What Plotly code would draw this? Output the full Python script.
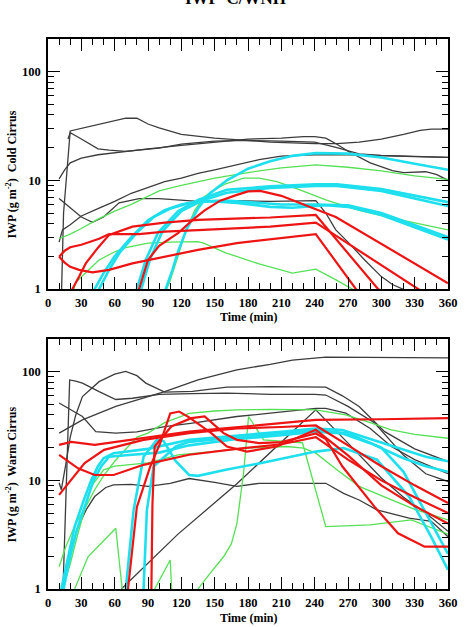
import plotly.graph_objects as go

# ---------------- Cold Cirrus (top panel) ----------------
cold_black_1_t = [12, 14, 20, 30, 45, 60, 70, 80, 90, 100, 120, 150, 170, 200, 240, 260, 280, 300, 320, 335, 345, 360]
cold_black_1_v = [0.8, 5, 28.5, 30, 32.6, 35, 37.3, 37.3, 33, 30.4, 26.5, 24.5, 23.6, 22.5, 21.8, 21.8, 22.5, 24, 26.5, 28.8, 29.6, 29.6]
cold_black_2_t = [10, 15, 20, 30, 45, 60, 90, 120, 150, 180, 210, 230, 240, 250, 260, 270, 290, 310, 320, 330, 340, 350, 360]
cold_black_2_v = [10.3, 12.5, 14.5, 16, 17.2, 18, 19.5, 21, 22.5, 24, 24.5, 25.3, 25.3, 24.5, 21.5, 18.5, 14.5, 12.3, 11.8, 11.9, 12, 11.3, 10]
cold_black_3_t = [18, 20, 30, 45, 55, 70, 100, 120, 150, 180, 210, 240, 260, 280, 300, 330, 360]
cold_black_3_v = [24, 27.5, 24, 19.5, 19, 18.5, 19.8, 21.5, 23, 23.3, 23, 22.5, 20, 17.5, 17, 16.6, 16.3]
cold_black_4_t = [10, 13, 20, 30, 45, 60, 75, 90, 105, 120, 135, 150, 170, 190, 210, 240, 270, 300, 330, 360]
cold_black_4_v = [2.7, 3.5, 3.9, 4.7, 5.5, 6.4, 7.6, 8.6, 9.75, 10.5, 11.6, 12.5, 13.9, 15.5, 16.7, 17.2, 17.2, 16.8, 16.5, 16.3]
cold_black_5_t = [10, 20, 30, 40, 50, 64, 82, 100, 135, 170, 200, 241, 250, 259, 270, 285, 300, 310, 322]
cold_black_5_v = [6.8, 5.6, 4.6, 4.1, 4.6, 6.2, 6.8, 6.8, 6.4, 6.5, 6.4, 6.5, 5, 3.5, 2.7, 1.85, 1.3, 1.1, 0.97]

cold_green_1_t = [10, 20, 30, 45, 60, 75, 100, 120, 150, 180, 210, 241, 270, 300, 330, 360]
cold_green_1_v = [2.9, 3.2, 3.6, 4.4, 5.2, 6, 8, 9, 10.5, 11.8, 13, 13.9, 13.2, 12.2, 11, 10.2]
cold_green_2_t = [22, 25, 35, 46, 60, 70, 90, 110, 135, 140, 160, 190, 220, 241, 260, 276]
cold_green_2_v = [0.9, 1.15, 1.45, 1.85, 2.2, 2.4, 2.64, 2.7, 2.73, 2.64, 2.15, 1.7, 1.4, 1.52, 1.2, 0.97]
cold_green_3_t = [105, 110, 117, 123, 132, 141, 150, 160, 176, 190, 206, 225, 250, 280, 310, 340, 360]
cold_green_3_v = [0.9, 1.2, 2, 3.2, 5.3, 7.1, 8.2, 9.3, 10.5, 10.5, 9.75, 8.3, 6.6, 5.3, 4.5, 3.9, 3.5]

cold_cyan_1_t = [40, 42, 50, 60, 75, 90, 105, 120, 135, 150, 170, 200, 220, 250, 270, 300, 330, 360]
cold_cyan_1_v = [0.85, 1, 1.4, 2, 3, 4.3, 5.3, 6, 6.4, 6.4, 6.2, 5.7, 5.6, 5.9, 5.7, 4.8, 3.7, 2.85]
cold_cyan_2_t = [44, 46, 55, 65, 80, 95, 110, 125, 140, 160, 180, 210, 240, 270, 300, 330, 360]
cold_cyan_2_v = [0.85, 1, 1.5, 2.2, 3.3, 4.6, 5.5, 6.1, 6.4, 6.5, 6.3, 6, 6, 5.9, 5, 3.9, 3.0]
cold_cyan_3_t = [78, 80, 88, 99, 117, 135, 161, 200, 241, 260, 300, 330, 360]
cold_cyan_3_v = [0.9, 1, 1.85, 3.3, 5.2, 6.6, 8.2, 8.8, 9.2, 9.2, 8.3, 7.2, 6.3]
cold_cyan_4_t = [82, 84, 92, 103, 120, 140, 161, 200, 241, 260, 300, 330, 360]
cold_cyan_4_v = [0.9, 1, 1.9, 3.4, 5.2, 6.6, 7.7, 8.5, 8.9, 8.9, 8, 6.8, 5.8]
cold_cyan_5_t = [104, 106, 112, 117, 125, 135, 145, 161, 180, 200, 220, 241, 270, 300, 330, 360]
cold_cyan_5_v = [0.9, 1, 1.5, 2.2, 3.6, 5.5, 7.5, 10, 12.8, 15, 16.8, 17.8, 17.6, 16.2, 14.2, 12.5]

cold_red_1_t = [10, 15, 20, 28, 40, 55, 76, 105, 135, 170, 200, 241, 280]
cold_red_1_v = [1.98, 1.75, 1.6, 1.5, 1.42, 1.5, 1.72, 1.98, 2.29, 2.64, 2.85, 3.2, 0.91]
cold_red_2_t = [10, 15, 20, 30, 46, 55, 82, 105, 135, 170, 200, 241, 333, 340]
cold_red_2_v = [1.98, 2.25, 2.42, 2.55, 2.9, 3.2, 3.2, 3.37, 3.48, 3.6, 3.75, 4.08, 1.0, 0.9]
cold_red_3_t = [20, 22, 28, 34, 45, 55, 76, 105, 135, 170, 200, 241, 297, 305]
cold_red_3_v = [0.85, 1.0, 1.3, 1.72, 2.4, 3.15, 3.75, 4.08, 4.33, 4.47, 4.55, 4.8, 1.0, 0.88]
cold_red_4_t = [80, 82, 90, 100, 117, 130, 141, 155, 170, 180, 191, 210, 230, 259, 360]
cold_red_4_v = [0.9, 1, 1.85, 2.5, 3.26, 4.3, 5.3, 6.5, 7.35, 7.9, 8.0, 7.2, 6.0, 4.6, 1.13]

# ---------------- Warm Cirrus (bottom panel) ----------------
warm_black_1_t = [10, 12, 16, 20, 25, 31, 46, 60, 70, 80, 88, 105, 130, 150, 161, 200, 240, 250, 265, 280, 303, 330, 360]
warm_black_1_v = [9.5, 8.2, 14, 25, 40, 59, 81, 95, 100.6, 92, 78.6, 65, 66, 70, 72, 73, 73, 72, 60, 47.9, 28.1, 19.5, 14.9]
warm_black_2_t = [13.5, 19.5, 25, 31, 46, 61, 76, 100, 130, 161, 200, 240, 250, 270, 294, 320, 340, 360]
warm_black_2_v = [1, 84, 82, 78.6, 65.6, 55.5, 57, 62, 63, 63.6, 62, 62, 61, 48, 33.7, 17, 11.5, 9.75]
warm_black_3_t = [10, 31, 61, 105, 135, 170, 200, 220, 250, 300, 360]
warm_black_3_v = [27.2, 36, 47.9, 65.6, 84, 104, 117, 128, 136, 135, 134]
warm_black_4_t = [10, 20, 31, 43, 61, 80, 105, 130, 170, 200, 241, 250, 268, 290, 309, 330, 360]
warm_black_4_v = [51.5, 45, 38.7, 28.1, 27.2, 28, 31.3, 33.7, 38.7, 41.5, 46, 46, 41.6, 30, 20.5, 15.5, 11.5]
warm_black_5_t = [12, 20, 27, 35, 42, 52, 59, 75, 90, 110, 127, 150, 170, 190, 220, 250, 266, 280, 296, 325, 345, 360]
warm_black_5_v = [0.9, 2.2, 3.75, 5.5, 7.1, 8.6, 9.1, 9.2, 8.8, 9.4, 10.4, 9.6, 8.8, 9.4, 9.4, 9.4, 7.6, 6.6, 5.35, 4.5, 4.2, 3.03]
warm_black_6_t = [66, 117, 170, 241, 270, 300, 320, 340, 360]
warm_black_6_v = [1, 3.2, 9.3, 44.6, 22, 10.5, 7, 5, 3.4]

warm_green_1_t = [10, 16, 25, 34, 42, 50, 60, 80, 90, 105, 127, 150, 170, 200, 241, 268, 290, 309, 330, 360]
warm_green_1_v = [1.6, 2.45, 4, 5.7, 8.2, 11, 15, 25, 27.2, 34, 41.4, 43.5, 44.6, 45, 44.6, 40, 34, 29.2, 26.5, 24.4]
warm_green_2_t = [22, 24, 36, 50.5, 61, 67]
warm_green_2_v = [0.9, 1.0, 1.98, 2.83, 3.62, 0.95]
warm_green_3_t = [94, 96, 110, 111.5]
warm_green_3_v = [0.85, 1, 1.85, 0.9]
warm_green_4_t = [133, 135, 146, 158, 165, 170, 176, 180.5, 194, 210, 229, 250, 290, 327, 345, 360]
warm_green_4_v = [0.9, 1, 1.4, 1.98, 2.6, 4, 11.6, 38.7, 23.6, 23, 22.2, 3.75, 3.9, 4.33, 3.7, 3.2]
warm_green_5_t = [13, 20, 27, 39, 50, 60, 90, 117, 150, 176, 215, 230, 241, 260, 280, 309, 330, 360]
warm_green_5_v = [1, 1.7, 3.26, 8.8, 12.5, 13.5, 14.5, 17.2, 18.5, 19.8, 20.5, 19.8, 17.8, 12.5, 8.8, 6.6, 5.4, 4.33]

warm_cyan_1_t = [12, 18, 24, 32, 39, 45, 50, 59, 90, 127, 170, 210, 241, 265, 290, 320, 340, 360]
warm_cyan_1_v = [1, 2, 3.75, 6.5, 10.1, 13.5, 16, 17.8, 19.5, 23.6, 26, 28, 30, 29, 24, 19, 16.5, 15]
warm_cyan_2_t = [14, 20, 26, 34, 41, 48, 55, 70, 100, 127, 170, 210, 241, 265, 290, 320, 340, 360]
warm_cyan_2_v = [1, 2, 3.5, 6, 10, 13.5, 16.5, 17, 18, 21, 24, 26, 28, 27, 22, 16, 13.5, 12]
warm_cyan_3_t = [70, 77, 86, 98, 104, 115, 127, 135, 160, 191, 241, 266, 296, 325, 345, 360]
warm_cyan_3_v = [1, 5.3, 16.5, 23.6, 23, 15, 11.2, 11, 12.5, 14.4, 18.4, 19.8, 15.5, 7.1, 3, 1.5]
warm_cyan_4_t = [85, 86, 89, 95, 115, 127, 170, 210, 241, 270, 300, 320, 340, 360]
warm_cyan_4_v = [0.9, 1, 5.3, 13.4, 20.5, 22.6, 25, 27, 29, 27, 20, 12, 5, 2.1]

warm_red_1_t = [10, 21, 42, 86, 127, 161, 200, 241, 300, 360]
warm_red_1_v = [21.2, 22.6, 21.2, 24.4, 28.1, 30.2, 33, 36, 36.5, 37.4]
warm_red_2_t = [10, 20, 27, 42, 59, 86, 127, 170, 210, 241, 270, 300, 330, 360]
warm_red_2_v = [17.2, 14.5, 12.9, 11.2, 11.2, 13.9, 17.2, 19.5, 21.5, 25, 15.5, 10, 7, 5]
warm_red_3_t = [10, 21, 33, 50.5, 86, 127, 170, 210, 241, 270, 300, 330, 360]
warm_red_3_v = [7.35, 10.1, 14.4, 19.1, 23.6, 27.2, 30, 31, 32, 21, 13.5, 9, 6.2]
warm_red_4_t = [72, 80, 92, 101, 110, 118, 127, 147, 161, 179, 206, 241, 270, 300, 330, 360]
warm_red_4_v = [1, 5.7, 13.4, 22, 41.4, 43, 38, 27.2, 20.5, 18.4, 20.5, 29.2, 17, 9, 5.8, 4.0]
warm_red_5_t = [93, 94, 96, 111, 129, 141, 158, 170, 190, 210, 241, 250, 265, 294, 315, 339, 360]
warm_red_5_v = [0.9, 6, 20.5, 31.3, 37.4, 38.7, 27.2, 23.6, 22, 22.5, 27, 24, 13.4, 5.7, 3.26, 2.45, 2.45]

x_ticks = [0, 30, 60, 90, 120, 150, 180, 210, 240, 270, 300, 330, 360]
y_ticks = [1, 10, 100]
y_tick_text = ["1", "10", "100"]

BLACK = "#3c3c3c"
GREEN = "#55e055"
CYAN = "#1edfee"
RED = "#ee1414"
STYLE = {"black": (BLACK, 1.3), "green": (GREEN, 1.3), "cyan": (CYAN, 2.6), "red": (RED, 2.2)}

cold = {
    "black": [(cold_black_1_t, cold_black_1_v), (cold_black_2_t, cold_black_2_v), (cold_black_3_t, cold_black_3_v),
              (cold_black_4_t, cold_black_4_v), (cold_black_5_t, cold_black_5_v)],
    "green": [(cold_green_1_t, cold_green_1_v), (cold_green_2_t, cold_green_2_v), (cold_green_3_t, cold_green_3_v)],
    "cyan": [(cold_cyan_1_t, cold_cyan_1_v), (cold_cyan_2_t, cold_cyan_2_v), (cold_cyan_3_t, cold_cyan_3_v),
             (cold_cyan_4_t, cold_cyan_4_v), (cold_cyan_5_t, cold_cyan_5_v)],
    "red": [(cold_red_1_t, cold_red_1_v), (cold_red_2_t, cold_red_2_v), (cold_red_3_t, cold_red_3_v),
            (cold_red_4_t, cold_red_4_v)],
}
warm = {
    "black": [(warm_black_1_t, warm_black_1_v), (warm_black_2_t, warm_black_2_v), (warm_black_3_t, warm_black_3_v),
              (warm_black_4_t, warm_black_4_v), (warm_black_5_t, warm_black_5_v), (warm_black_6_t, warm_black_6_v)],
    "green": [(warm_green_1_t, warm_green_1_v), (warm_green_2_t, warm_green_2_v), (warm_green_3_t, warm_green_3_v),
              (warm_green_4_t, warm_green_4_v), (warm_green_5_t, warm_green_5_v)],
    "cyan": [(warm_cyan_1_t, warm_cyan_1_v), (warm_cyan_2_t, warm_cyan_2_v), (warm_cyan_3_t, warm_cyan_3_v),
             (warm_cyan_4_t, warm_cyan_4_v)],
    "red": [(warm_red_1_t, warm_red_1_v), (warm_red_2_t, warm_red_2_v), (warm_red_3_t, warm_red_3_v),
            (warm_red_4_t, warm_red_4_v), (warm_red_5_t, warm_red_5_v)],
}

fig = go.Figure()
for panel, (xa, ya) in ((cold, ("x", "y")), (warm, ("x2", "y2"))):
    for group in ("black", "green", "cyan", "red"):
        col, w = STYLE[group]
        for t, v in panel[group]:
            fig.add_trace(go.Scatter(x=t, y=v, mode="lines", xaxis=xa, yaxis=ya,
                                     line=dict(color=col, width=w), showlegend=False,
                                     hoverinfo="skip"))

FONT = "Liberation Serif, Times New Roman, serif"
tickfont = dict(family=FONT, size=12.5, color="black", weight="bold")

xcommon = dict(range=[0, 360], tickvals=x_ticks, ticks="inside", ticklen=12, tickwidth=1.2,
               tickcolor="black", showline=True, linecolor="black", linewidth=1.6, mirror="ticks",
               showgrid=False, zeroline=False, tickfont=tickfont, ticklabelstandoff=1,
               minor=dict(dtick=10, ticks="inside", ticklen=6, tickwidth=1.1, tickcolor="black", showgrid=False))
ycommon = dict(type="log", range=[0, 2.301], tickvals=y_ticks, ticktext=y_tick_text, ticks="inside",
               ticklen=12, tickwidth=1.2, tickcolor="black", showline=True, linecolor="black",
               linewidth=1.6, mirror="ticks", showgrid=False, zeroline=False, tickfont=tickfont,
               ticklabelstandoff=3,
               minor=dict(dtick="D1", ticks="inside", ticklen=6, tickwidth=1.1, tickcolor="black", showgrid=False))

fig.update_layout(
    width=469, height=627, margin=dict(l=48, r=15, t=39, b=38),
    paper_bgcolor="white", plot_bgcolor="white",
    xaxis=dict(domain=[0, 1], anchor="y", **xcommon),
    yaxis=dict(domain=[0.5455, 1], anchor="x", **ycommon),
    xaxis2=dict(domain=[0, 1], anchor="y2", **xcommon),
    yaxis2=dict(domain=[0, 0.4545], anchor="x2", **ycommon),
)

titlefont = dict(family=FONT, size=12, color="black", weight="bold")
ann = [
    dict(text="IWP  C/WNH", x=0.468, y=(589 - 10) / 550, xref="paper", yref="paper", xanchor="center",
         yanchor="bottom", showarrow=False, font=dict(family=FONT, size=17, color="black", weight="bold")),
    dict(text="Time (min)", x=0.5, y=(589 - 317) / 550, xref="paper", yref="paper", xanchor="center",
         yanchor="middle", showarrow=False, font=titlefont),
    dict(text="Time (min)", x=0.5, y=(589 - 618) / 550, xref="paper", yref="paper", xanchor="center",
         yanchor="middle", showarrow=False, font=titlefont),
    dict(text="IWP (g m<sup>-2</sup>)  Cold Cirrus", x=(10 - 48) / 406, y=(589 - 175) / 550, xref="paper",
         yref="paper", xanchor="center", yanchor="middle", textangle=-90, showarrow=False, font=titlefont),
    dict(text="IWP (g m<sup>-2</sup>)  Warm Cirrus", x=(10 - 48) / 406, y=(589 - 475) / 550, xref="paper",
         yref="paper", xanchor="center", yanchor="middle", textangle=-90, showarrow=False, font=titlefont),
]
fig.update_layout(annotations=ann)

fig.write_html("out.html")
